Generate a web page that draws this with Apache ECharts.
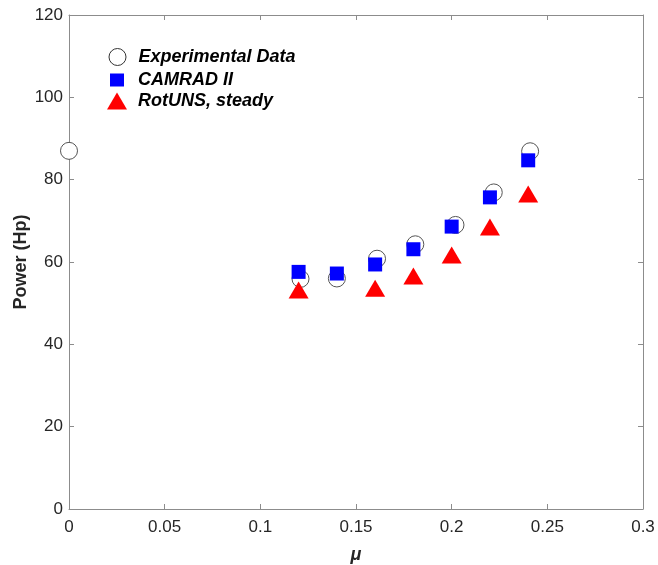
<!DOCTYPE html>
<html>
<head>
<meta charset="utf-8">
<script src="https://cdn.jsdelivr.net/npm/echarts@6/dist/echarts.min.js"></script>
<style>
  html, body { margin: 0; padding: 0; background: #fff; }
  #main { width: 658px; height: 565px; }
</style>
</head>
<body>
<div id="main"></div>
<script>
// 数据
var expMu = [0, 0.121, 0.14, 0.161, 0.181, 0.202, 0.222, 0.241];
var expPower = [87, 55.9, 56.0, 60.8, 64.3, 69.0, 76.9, 86.9];

var camMu = [0.12, 0.14, 0.16, 0.18, 0.20, 0.22, 0.24];
var camPower = [57.6, 57.2, 59.4, 63.1, 68.6, 75.7, 84.7];

var rotMu = [0.12, 0.16, 0.18, 0.20, 0.22, 0.24];
var rotPower = [53.2, 53.6, 56.6, 61.7, 68.5, 76.5];

var xTicks = [0, 0.05, 0.1, 0.15, 0.2, 0.25, 0.3];
var yTicks = [0, 20, 40, 60, 80, 100, 120];

function pairs(xs, ys) {
  return xs.map(function (x, i) { return [x, ys[i]]; });
}

var myChart = echarts.init(document.getElementById('main'));
var font = 'Liberation Sans, Arial, sans-serif';
var axisColor = '#8c8c8c';
var labelColor = '#262626';

var legendText = {
  fontFamily: font, fontSize: 18, fontWeight: 'bold', fontStyle: 'italic', color: '#000'
};

// 每个图例单独放置，便于控制图标大小
function oneLegend(name, w, h, cx, cy, border) {
  return {
    data: [name],
    left: cx - w / 2,
    top: cy - 10,
    padding: 0,
    itemWidth: w,
    itemHeight: h,
    itemStyle: border ? { borderWidth: 1, borderColor: '#333' } : {},
    textStyle: Object.assign({ padding: [0, 0, 0, 138 - (cx + w / 2) - 5] }, legendText)
  };
}

var baseX = {
  type: 'value',
  min: xTicks[0],
  max: xTicks[xTicks.length - 1],
  interval: 0.05,
  splitLine: { show: false },
  axisLine: { show: true, onZero: false, lineStyle: { color: axisColor, width: 1 } },
  axisTick: { show: true, inside: true, length: 5, lineStyle: { color: axisColor } }
};
var baseY = {
  type: 'value',
  min: yTicks[0],
  max: yTicks[yTicks.length - 1],
  interval: 20,
  splitLine: { show: false },
  axisLine: { show: true, onZero: false, lineStyle: { color: axisColor, width: 1 } },
  axisTick: { show: true, inside: true, length: 5, lineStyle: { color: axisColor } }
};

var option = {
  backgroundColor: '#fff',
  animation: false,
  grid: { left: 69, right: 15, top: 15, bottom: 56, containLabel: false, outerBoundsMode: 'none' },
  legend: [
    oneLegend('Experimental Data', 17, 17, 117, 58, true),
    oneLegend('CAMRAD II', 14, 13, 117, 81, false),
    oneLegend('RotUNS, steady', 20, 17, 117, 102, false)
  ],
  xAxis: [
    Object.assign({}, baseX, {
      position: 'bottom',
      name: 'μ',
      nameLocation: 'middle',
      nameGap: 37,
      nameMoveOverlap: false,
      nameTextStyle: { fontFamily: font, fontSize: 18, fontStyle: 'italic', fontWeight: 'bold', color: labelColor },
      axisLabel: {
        fontFamily: font, fontSize: 17, color: labelColor, margin: 10,
        formatter: function (v) { return String(Math.round(v * 100) / 100); }
      }
    }),
    Object.assign({}, baseX, { position: 'top', axisLabel: { show: false } })
  ],
  yAxis: [
    Object.assign({}, baseY, {
      position: 'left',
      name: 'Power (Hp)',
      nameLocation: 'middle',
      nameGap: 39,
      nameMoveOverlap: false,
      nameTextStyle: { fontFamily: font, fontSize: 18, fontWeight: 'bold', color: labelColor },
      axisLabel: { fontFamily: font, fontSize: 17, color: labelColor, margin: 6 }
    }),
    Object.assign({}, baseY, { position: 'right', axisLabel: { show: false } })
  ],
  series: [
    {
      name: 'Experimental Data',
      type: 'scatter',
      symbol: 'circle',
      symbolSize: 17,
      itemStyle: { color: '#fff', borderColor: '#555', borderWidth: 1, opacity: 1 },
      data: pairs(expMu, expPower),
      z: 2
    },
    {
      name: 'CAMRAD II',
      type: 'scatter',
      symbol: 'rect',
      symbolSize: 14,
      itemStyle: { color: '#0000ff', opacity: 1 },
      data: pairs(camMu, camPower),
      z: 3
    },
    {
      name: 'RotUNS, steady',
      type: 'scatter',
      symbol: 'triangle',
      symbolSize: [20, 17],
      itemStyle: { color: '#ff0000', opacity: 1 },
      data: pairs(rotMu, rotPower),
      z: 4
    }
  ]
};

option && myChart.setOption(option);
</script>
</body>
</html>
